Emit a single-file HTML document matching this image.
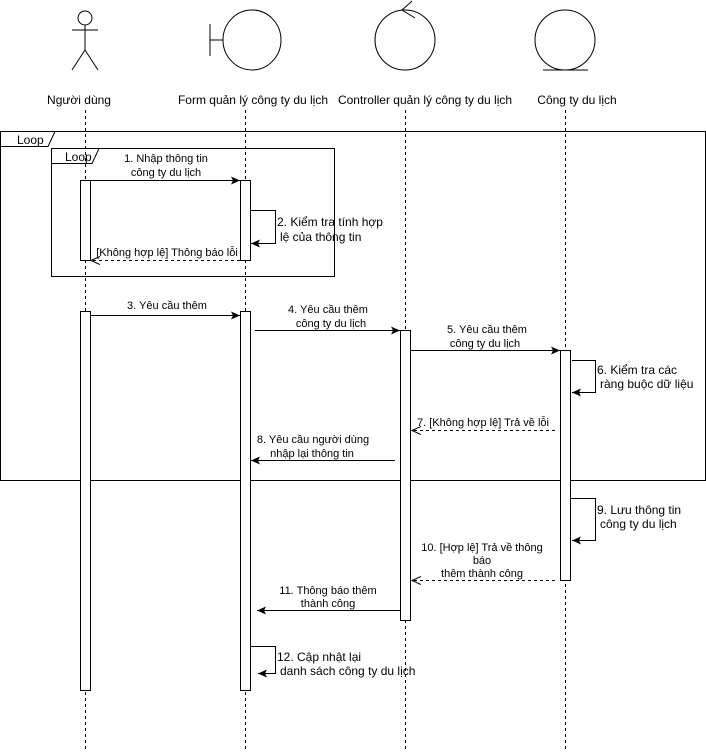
<!DOCTYPE html>
<html><head><meta charset="utf-8"><style>
html,body{margin:0;padding:0;background:#fff;}
svg{display:block;}
text{font-family:"Liberation Sans",sans-serif;fill:#000;}
.m{font-size:11px;text-anchor:middle;}
.s{font-size:12px;}
</style></head><body>
<svg width="706" height="752" viewBox="0 0 706 752" xmlns="http://www.w3.org/2000/svg">
<defs>
<marker id="f" markerWidth="10" markerHeight="10" refX="9" refY="5" orient="auto" markerUnits="userSpaceOnUse"><path d="M0,1 L9,5 L0,9 L2,5 Z" fill="#000"/></marker>
<marker id="o" markerWidth="10" markerHeight="10" refX="9" refY="5" orient="auto" markerUnits="userSpaceOnUse"><path d="M0,1 L9,5 L0,9" fill="none" stroke="#000"/></marker>
</defs>
<g stroke="#000" fill="none" stroke-width="1">
<circle cx="85" cy="18" r="7"/>
<line x1="85" y1="25" x2="85" y2="50"/><line x1="72" y1="30" x2="98" y2="30"/>
<line x1="85" y1="50" x2="72" y2="70"/><line x1="85" y1="50" x2="98" y2="70"/>
<ellipse cx="252" cy="40" rx="29" ry="30"/>
<line x1="210" y1="24" x2="210" y2="56"/><line x1="210" y1="40" x2="223" y2="40"/>
<ellipse cx="405" cy="40" rx="30" ry="30"/>
<line x1="402" y1="10" x2="412" y2="1"/><line x1="402" y1="10" x2="415" y2="18"/>
<ellipse cx="565" cy="40" rx="30" ry="30"/>
<line x1="543" y1="70" x2="588" y2="70"/>
<g stroke-dasharray="3,3">
<line x1="85.5" y1="110" x2="85.5" y2="752"/><line x1="245.5" y1="110" x2="245.5" y2="752"/>
<line x1="405.5" y1="110" x2="405.5" y2="752"/><line x1="565.5" y1="110" x2="565.5" y2="752"/>
</g>
<rect x="0.5" y="131.5" width="705" height="349" fill="none"/>
<path d="M0.5,146.5 H48 L55,131.5"/>
<rect x="51.5" y="148.5" width="283" height="128" fill="none"/>
<path d="M51.5,163.5 H92 L99,148.5"/>
<g fill="#fff">
<rect x="80.5" y="180.5" width="10" height="80"/><rect x="240.5" y="180.5" width="10" height="80"/>
<rect x="80.5" y="311.5" width="10" height="379"/><rect x="240.5" y="311.5" width="10" height="379"/>
<rect x="400.5" y="330.5" width="10" height="290"/><rect x="560.5" y="350.5" width="10" height="230"/>
</g>
<line x1="90" y1="180.5" x2="240" y2="180.5" marker-end="url(#f)"/>
<polyline points="251,210.5 275.5,210.5 275.5,243.5 251,243.5" marker-end="url(#f)"/>
<line x1="240" y1="260.5" x2="91" y2="260.5" stroke-dasharray="3,3" marker-end="url(#o)"/>
<line x1="90" y1="315.5" x2="240" y2="315.5" marker-end="url(#f)"/>
<line x1="255" y1="330.5" x2="400" y2="330.5" marker-end="url(#f)"/>
<line x1="410" y1="350.5" x2="560" y2="350.5" marker-end="url(#f)"/>
<polyline points="572,360.5 595.5,360.5 595.5,392.5 572,392.5" marker-end="url(#f)"/>
<line x1="555" y1="430.5" x2="412" y2="430.5" stroke-dasharray="3,3" marker-end="url(#o)"/>
<line x1="395" y1="460.5" x2="251" y2="460.5" marker-end="url(#f)"/>
<polyline points="571,498.5 595.5,498.5 595.5,540.5 572,540.5" marker-end="url(#f)"/>
<line x1="555" y1="580.5" x2="412" y2="580.5" stroke-dasharray="3,3" marker-end="url(#o)"/>
<line x1="400" y1="610.5" x2="257" y2="610.5" marker-end="url(#f)"/>
<polyline points="251,646.5 275.5,646.5 275.5,673.5 258,673.5" marker-end="url(#f)"/>
</g>
<text class="s" x="79" y="104" text-anchor="middle">Người dùng</text>
<text class="s" x="253" y="104" text-anchor="middle">Form quản lý công ty du lịch</text>
<text class="s" x="425" y="104" text-anchor="middle">Controller quản lý công ty du lịch</text>
<text class="s" x="577" y="104" text-anchor="middle">Công ty du lịch</text>
<text class="s" x="17" y="144">Loop</text>
<text class="s" x="65" y="161">Loop</text>
<text class="m" x="166" y="162">1. Nhập thông tin</text>
<text class="m" x="166" y="176">công ty du lịch</text>
<text class="s" x="277" y="226">2. Kiểm tra tính hợp</text>
<text class="s" x="280" y="241">lệ của thông tin</text>
<text class="m" x="167" y="256">[Không hợp lệ] Thông báo lỗi</text>
<text class="m" x="167" y="309">3. Yêu cầu thêm</text>
<text class="m" x="328" y="313">4. Yêu cầu thêm</text>
<text class="m" x="331" y="327">công ty du lịch</text>
<text class="m" x="487" y="333">5. Yêu cầu thêm</text>
<text class="m" x="485" y="347">công ty du lịch</text>
<text class="s" x="597" y="374">6. Kiểm tra các</text>
<text class="s" x="600" y="388">ràng buộc dữ liệu</text>
<text class="m" x="483" y="426">7. [Không hợp lệ] Trả về lỗi</text>
<text class="m" x="313" y="443">8. Yêu cầu người dùng</text>
<text class="m" x="312" y="457">nhập lại thông tin</text>
<text class="s" x="597" y="514">9. Lưu thông tin</text>
<text class="s" x="600" y="528">công ty du lịch</text>
<text class="m" x="482" y="551">10. [Hợp lệ] Trả về thông</text>
<text class="m" x="482" y="564">báo</text>
<text class="m" x="482" y="577">thêm thành công</text>
<text class="m" x="328" y="594">11. Thông báo thêm</text>
<text class="m" x="328" y="607">thành công</text>
<text class="s" x="277" y="661">12. Cập nhật lại</text>
<text class="s" x="280" y="675">danh sách công ty du lịch</text>
</svg>
</body></html>
